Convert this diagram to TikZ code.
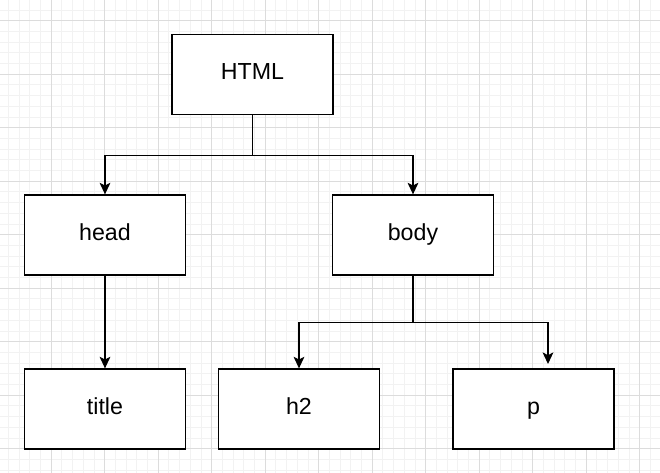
\documentclass[tikz,border=0pt]{standalone}
\usepackage{fontspec}
\setmainfont{Liberation Sans}
\usetikzlibrary{arrows.meta}
\definecolor{minorgrid}{HTML}{F2F2F2}
\definecolor{majorgrid}{HTML}{DCDCDC}
\tikzset{
	tag/.style={draw=black, line width=0.9pt, fill=white, minimum width=4.025cm, minimum height=2cm, inner sep=0pt, text height=0.72em, text depth=0pt, font=\fontsize{16.5}{20}\selectfont},
	link/.style={line width=0.9pt, -{Stealth[length=0.29cm, width=0.27cm, inset=0.07cm]}},
}

\begin{document}
\begin{tikzpicture}[x=0.025cm, y=-0.025cm]
			%%%%% START %%%%%
			\useasboundingbox (0, 0) rectangle (660, 473);
			\fill[white] (0, 0) rectangle (660, 473);
			
			% grid
			\foreach \k in {-5,...,62} {
				\draw[minorgrid, line width=0.6pt] ({51.2+10.7*\k}, 0) -- ({51.2+10.7*\k}, 473);
				\draw[minorgrid, line width=0.6pt] (0, {20.7+10.7*\k}) -- (660, {20.7+10.7*\k});
			}
			\foreach \k in {-1,...,12} {
				\draw[majorgrid, line width=0.6pt] ({51.2+53.5*\k}, 0) -- ({51.2+53.5*\k}, 473);
				\draw[majorgrid, line width=0.6pt] (0, {20.7+53.5*\k}) -- (660, {20.7+53.5*\k});
			}
			
			% boxes
			\node[tag] (html) at (252.5, 74.2) {HTML};
			\node[tag] (head) at (105, 235) {head};
			\node[tag] (body) at (413, 235) {body};
			\node[tag] (title) at (105, 409) {title};
			\node[tag] (h2) at (299, 409) {h2};
			\node[tag] (p) at (533.5, 409) {p};
			\coordinate (pend) at (548, 364);
			
			% links
			\draw[link] (html.south) -- ++(0, 40.5) -| (head.north);
			\draw[link] (html.south) -- ++(0, 40.5) -| (body.north);
			\draw[link] (head.south) -- (title.north);
			\draw[link] (body.south) -- ++(0, 47) -| (h2.north);
			\draw[link] (body.south) -- ++(0, 47) -| (pend);
			%%%%% END %%%%%
\end{tikzpicture}
\end{document}
